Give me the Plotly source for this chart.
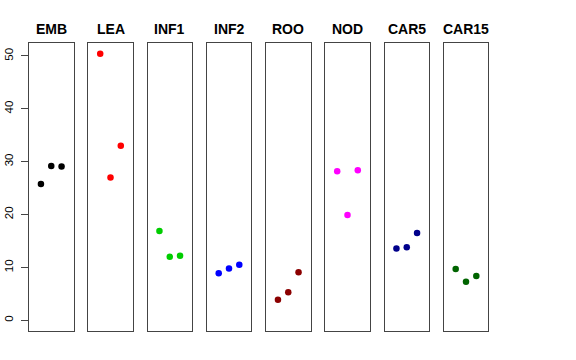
import plotly.graph_objects as go

categories = ["EMB", "LEA", "INF1", "INF2", "ROO", "NOD", "CAR5", "CAR15"]
values = [
    [25.8, 29.2, 29.1],
    [50.4, 27.0, 33.0],
    [16.9, 12.0, 12.2],
    [8.9, 9.8, 10.5],
    [3.9, 5.3, 9.1],
    [28.2, 19.9, 28.4],
    [13.6, 13.8, 16.5],
    [9.7, 7.3, 8.4],
]
colors = ["#000000", "#FF0000", "#00CD00", "#0000FF", "#8B0000", "#FF00FF", "#00008B", "#006400"]
replicates = [1, 2, 3]
y_ticks = [0, 10, 20, 30, 40, 50]

W, H = 576, 360
left0, pitch, pw = 29, 59.25, 44.5
top, bottom = 43, 331

fig = go.Figure()
layout = dict(
    width=W, height=H,
    margin=dict(l=0, r=0, t=0, b=0, autoexpand=False),
    paper_bgcolor="white", plot_bgcolor="white",
    showlegend=False,
    font=dict(family="Liberation Sans, Arial, sans-serif", color="black"),
)
annotations = []
for i, (cat, vals, col) in enumerate(zip(categories, values, colors)):
    n = "" if i == 0 else str(i + 1)
    fig.add_trace(go.Scatter(
        x=replicates, y=vals, mode="markers",
        marker=dict(color=col, size=6.5, line=dict(width=0)),
        xaxis="x" + n, yaxis="y" + n, name=cat,
    ))
    x0 = (left0 + i * pitch) / W
    x1 = (left0 + i * pitch + pw) / W
    layout["xaxis" + n] = dict(
        domain=[x0, x1], range=[-0.16, 4.16], anchor="y" + n, automargin=False,
        showgrid=False, zeroline=False, showticklabels=False, ticks="",
        showline=True, mirror=True, linecolor="#444444", linewidth=1,
    )
    ya = dict(
        domain=[1 - bottom / H, 1 - top / H], range=[-2.02, 52.45], anchor="x" + n,
        automargin=False, showgrid=False, zeroline=False,
        showline=True, mirror=True, linecolor="#444444", linewidth=1,
    )
    if i == 0:
        ya.update(tickvals=y_ticks, ticks="outside", ticklen=7, tickcolor="#444444",
                  tickangle=-90, tickfont=dict(size=11.5, color="black"),
                  ticklabelstandoff=3)
    else:
        ya.update(showticklabels=False, ticks="")
    layout["yaxis" + n] = ya
    annotations.append(dict(
        text="<b>" + cat + "</b>", x=(x0 + x1) / 2, y=1 - 29 / H,
        xref="paper", yref="paper", xanchor="center", yanchor="middle",
        showarrow=False, font=dict(size=14, color="black"),
    ))
layout["annotations"] = annotations
fig.update_layout(**layout)
fig.write_html("out.html", config={"displayModeBar": False},
               post_script="document.body.style.margin='0px';")
